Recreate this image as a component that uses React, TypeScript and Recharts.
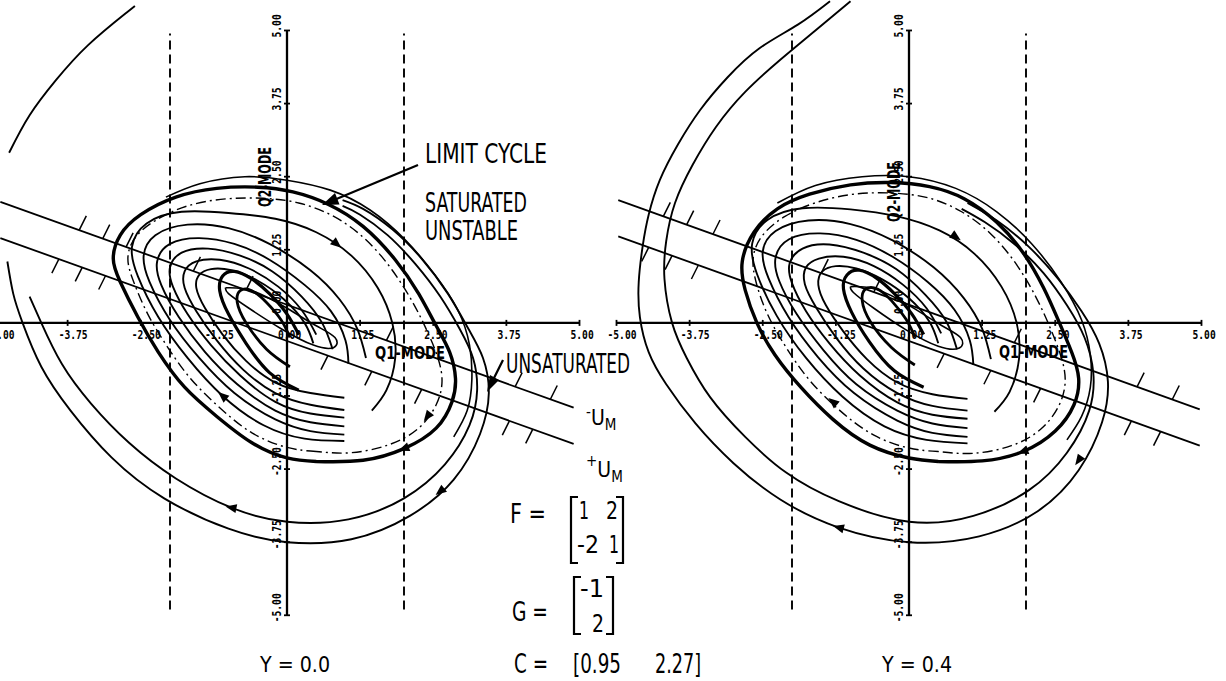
import React from 'react';
import { ComposedChart, XAxis, YAxis, Scatter } from 'recharts';

type Pt = { x: number; y: number; [k: string]: any };
const toPts = (a: number[][]): Pt[] => a.map(([x, y]) => ({ x, y }));

// ---------- axes ----------
const tickValues = [-5, -3.75, -2.5, -1.25, 0, 1.25, 2.5, 3.75, 5];
const tickLabels = ['-5.00', '-3.75', '-2.50', '-1.25', '0.00', '1.25', '2.50', '3.75', '5.00'];
const axisSpan = [-5, 5];
const satBounds = [-2, 2];
const satBoundYRange = [-4.9, 4.95];

// ---------- LEFT PANEL (Y = 0.0) ----------
const L_upperLine = [[-4.9, 2.07], [4.9, -1.45]];
const L_lowerLine = [[-4.9, 1.45], [4.9, -2.07]];
const L_upperHatch = [[-3.55, 1.59], [-3.15, 1.44], [-2.75, 1.3], [-1.6, 0.89], [-0.7, 0.56], [1.7, -0.3], [3.9, -1.09], [4.5, -1.31]];
const L_lowerHatch = [[-3.9, 1.09], [-3.5, 0.95], [-3.1, 0.81], [0.7, -0.56], [1.45, -0.83], [2.3, -1.14], [3.8, -1.68], [4.2, -1.82]];

const L_arc = [[-4.75, 2.91], [-4.4, 3.55], [-3.95, 4.15], [-3.4, 4.75], [-2.75, 5.3], [-2.6, 5.42]];
const L_outer1 = [[-4.78, 1.05], [-4.68, 0.5], [-4.52, 0], [-4.2, -0.75], [-3.7, -1.5], [-3.0, -2.3], [-2.1, -3.0], [-1.0, -3.52], [0, -3.75], [1.1, -3.7], [2.1, -3.3], [2.85, -2.68], [3.3, -1.9], [3.45, -1.2], [3.35, -0.6], [3.1, -0.1], [2.75, 0.5], [2.3, 1.1], [1.8, 1.6], [1.3, 1.95], [0.95, 2.1]];
const L_outer2 = [[-4.4, 0.45], [-4.2, 0], [-3.85, -0.7], [-3.35, -1.38], [-2.7, -2.05], [-1.9, -2.66], [-0.95, -3.16], [0, -3.4], [1.05, -3.36], [2.0, -3.0], [2.7, -2.42], [3.12, -1.75], [3.25, -1.15], [3.18, -0.6], [2.95, -0.1], [2.62, 0.45], [2.2, 1.0], [1.72, 1.5], [1.25, 1.85], [0.95, 2.0]];
const L_outer3 = [[-2.07, 2.15], [-1.49, 2.38], [-0.72, 2.5], [0, 2.44], [0.74, 2.27], [1.42, 1.93], [2.02, 1.42], [2.53, 0.82], [2.92, 0.22], [3.12, -0.38], [3.16, -0.97], [3.08, -1.5], [2.85, -1.95]];
const L_limitCycle = [[0.5, -2.37], [0.0, -2.31], [-0.6, -2.05], [-1.2, -1.6], [-1.75, -1.1], [-2.2, -0.5], [-2.55, 0.1], [-2.85, 0.7], [-2.97, 1.1], [-2.85, 1.5], [-2.5, 1.85], [-1.9, 2.15], [-1.2, 2.3], [-0.5, 2.32], [0.1, 2.24], [0.7, 2.03], [1.3, 1.65], [1.85, 1.08], [2.25, 0.5], [2.55, -0.05], [2.78, -0.5], [2.88, -0.95], [2.82, -1.35], [2.55, -1.8], [2.0, -2.15], [1.3, -2.35], [0.5, -2.37]];
const L_dashDot = [[0.5, -2.2], [0, -2.13], [-0.6, -1.88], [-1.15, -1.45], [-1.65, -0.95], [-2.05, -0.4], [-2.38, 0.15], [-2.62, 0.7], [-2.72, 1.1], [-2.6, 1.45], [-2.25, 1.75], [-1.7, 2.0], [-1.05, 2.12], [-0.4, 2.13], [0.2, 2.05], [0.8, 1.82], [1.35, 1.42], [1.8, 0.9], [2.15, 0.35], [2.4, -0.15], [2.58, -0.6], [2.65, -1.0], [2.55, -1.4], [2.25, -1.8], [1.75, -2.08], [1.1, -2.22], [0.5, -2.2]];
const L_c1 = [[0.98, -1.28], [0.4, -1.2], [-0.2, -1.02], [-0.7, -0.65], [-1.1, -0.2], [-1.4, 0.25], [-1.55, 0.6], [-1.5, 0.82], [-1.3, 0.92], [-0.95, 0.9], [-0.5, 0.72], [-0.05, 0.4], [0.3, 0.0], [0.45, -0.35]];
const L_c2 = [[0.98, -1.49], [0.4, -1.4], [-0.2, -1.2], [-0.75, -0.8], [-1.2, -0.3], [-1.55, 0.2], [-1.75, 0.6], [-1.75, 0.88], [-1.55, 1.05], [-1.15, 1.08], [-0.65, 0.93], [-0.15, 0.62], [0.25, 0.22], [0.5, -0.2]];
const L_c3 = [[0.98, -1.62], [0.4, -1.55], [-0.2, -1.35], [-0.8, -0.9], [-1.3, -0.38], [-1.7, 0.15], [-1.95, 0.62], [-2.0, 0.95], [-1.8, 1.2], [-1.35, 1.27], [-0.8, 1.15], [-0.25, 0.88], [0.25, 0.45], [0.6, 0.0], [0.78, -0.45]];
const L_c4 = [[0.98, -1.77], [0.4, -1.7], [-0.2, -1.5], [-0.85, -1.05], [-1.4, -0.5], [-1.85, 0.1], [-2.15, 0.65], [-2.22, 1.05], [-2.0, 1.35], [-1.5, 1.45], [-0.9, 1.35], [-0.3, 1.08], [0.3, 0.65], [0.75, 0.2], [1.0, -0.3], [1.05, -0.7]];
const L_c5 = [[0.98, -1.91], [0.4, -1.85], [-0.2, -1.65], [-0.9, -1.2], [-1.5, -0.6], [-2.0, 0.05], [-2.35, 0.7], [-2.45, 1.15], [-2.25, 1.5], [-1.7, 1.68], [-1.0, 1.62], [-0.3, 1.35], [0.4, 0.9], [0.9, 0.4], [1.2, -0.1], [1.35, -0.6]];
const L_c6 = [[0.98, -2.02], [0.3, -1.98], [-0.4, -1.75], [-1.1, -1.25], [-1.7, -0.6], [-2.2, 0.1], [-2.55, 0.8], [-2.65, 1.3], [-2.4, 1.7], [-1.8, 1.9], [-1.0, 1.88], [-0.2, 1.78], [0.5, 1.55], [1.1, 1.15], [1.55, 0.6], [1.8, 0.0], [1.85, -0.6], [1.7, -1.15], [1.45, -1.5]];
const L_t1 = [[0.2, -1.15], [-0.3, -0.85], [-0.7, -0.35], [-1.0, 0.15], [-1.15, 0.55], [-1.1, 0.8], [-0.9, 0.88], [-0.6, 0.75], [-0.3, 0.5], [0.0, 0.15], [0.2, -0.2]];
const L_t2 = [[0.05, -0.75], [-0.35, -0.45], [-0.7, 0.0], [-0.85, 0.35], [-0.8, 0.55], [-0.6, 0.55], [-0.35, 0.35], [-0.1, 0.05], [0.05, -0.25]];
const L_e1 = [[-1.05, 0.6], [-0.6, 0.55], [0.0, 0.25], [0.5, -0.05], [0.82, -0.25], [0.8, -0.42], [0.45, -0.38], [-0.1, -0.1], [-0.65, 0.25], [-1.0, 0.5], [-1.05, 0.6]];
const L_arrows = [[0.85, 1.35, 40], [-1.1, -1.25, 220], [2.62, -2.88, 141], [-0.95, -3.16, 191], [2.0, -2.15, 159], [2.4, -1.6, 127]];

// ---------- RIGHT PANEL (Y = 0.4) ----------
const R_upperLine = [[-4.97, 2.1], [4.97, -1.48]];
const R_lowerLine = [[-4.97, 1.48], [4.97, -2.1]];
const R_upperHatch = [[-4.2, 1.82], [-3.8, 1.68], [-3.35, 1.52], [-1.5, 0.85], [-0.6, 0.53], [1.8, -0.34], [3.9, -1.09], [4.5, -1.31]];
const R_lowerHatch = [[-4.45, 1.29], [-4.05, 1.15], [-3.6, 0.99], [0.6, -0.53], [1.4, -0.81], [2.25, -1.12], [3.8, -1.68], [4.3, -1.86]];
const R_outer1 = [[-1.35, 5.5], [-1.9, 5.1], [-2.55, 4.7], [-3.1, 4.2], [-3.57, 3.64], [-3.95, 3.05], [-4.26, 2.44], [-4.45, 1.85], [-4.55, 1.33], [-4.62, 0.7], [-4.6, 0.1], [-4.45, -0.5], [-4.15, -1.05], [-3.65, -1.72], [-3.0, -2.4], [-2.2, -3.02], [-1.2, -3.5], [0, -3.75], [1.2, -3.65], [2.2, -3.22], [2.9, -2.52], [3.3, -1.7], [3.4, -1.0], [3.25, -0.35], [2.95, 0.2], [2.55, 0.75], [2.05, 1.3], [1.5, 1.75], [1.0, 2.05]];
const R_outer2 = [[-1.0, 5.5], [-1.6, 5.0], [-2.2, 4.5], [-2.8, 3.95], [-3.3, 3.35], [-3.7, 2.7], [-4.0, 2.05], [-4.15, 1.4], [-4.18, 0.75], [-4.05, 0.0], [-3.8, -0.6], [-3.4, -1.27], [-2.8, -1.95], [-2.1, -2.56], [-1.2, -3.05], [0, -3.4], [1.1, -3.3], [2.05, -2.86], [2.7, -2.22], [3.08, -1.5], [3.15, -0.85], [3.0, -0.25], [2.7, 0.3], [2.3, 0.85], [1.8, 1.35], [1.3, 1.72], [0.9, 1.95]];
const R_outer3 = [[-2.25, 2.05], [-1.6, 2.35], [-0.8, 2.5], [0, 2.5], [0.8, 2.3], [1.5, 1.9], [2.1, 1.35], [2.6, 0.7], [2.95, 0.05], [3.1, -0.55], [3.1, -1.1], [2.95, -1.6], [2.7, -2.0]];
const R_limitCycle = [[0.5, -2.37], [0, -2.31], [-0.67, -2.09], [-1.3, -1.65], [-1.85, -1.1], [-2.29, -0.55], [-2.6, 0.0], [-2.8, 0.56], [-2.85, 1.05], [-2.65, 1.55], [-2.25, 1.95], [-1.7, 2.2], [-1.0, 2.36], [-0.3, 2.4], [0.35, 2.33], [0.95, 2.12], [1.5, 1.72], [1.95, 1.2], [2.3, 0.6], [2.55, 0.05], [2.78, -0.5], [2.9, -0.95], [2.82, -1.4], [2.5, -1.85], [1.95, -2.2], [1.25, -2.36], [0.5, -2.37]];
const R_dashDot = [[0.5, -2.2], [0, -2.14], [-0.6, -1.92], [-1.18, -1.5], [-1.7, -0.98], [-2.1, -0.42], [-2.42, 0.15], [-2.62, 0.72], [-2.66, 1.14], [-2.5, 1.5], [-2.12, 1.82], [-1.58, 2.06], [-0.95, 2.2], [-0.3, 2.22], [0.32, 2.14], [0.9, 1.9], [1.42, 1.5], [1.85, 0.98], [2.18, 0.42], [2.42, -0.1], [2.6, -0.58], [2.67, -1.0], [2.56, -1.42], [2.25, -1.82], [1.75, -2.1], [1.1, -2.23], [0.5, -2.2]];
const R_c1 = [[1.0, -1.3], [0.4, -1.22], [-0.2, -1.02], [-0.72, -0.62], [-1.12, -0.15], [-1.42, 0.3], [-1.55, 0.65], [-1.48, 0.88], [-1.25, 0.97], [-0.9, 0.93], [-0.45, 0.74], [0.0, 0.42], [0.35, 0.02], [0.5, -0.35]];
const R_c2 = [[1.0, -1.5], [0.4, -1.42], [-0.2, -1.2], [-0.78, -0.78], [-1.24, -0.26], [-1.58, 0.25], [-1.78, 0.66], [-1.76, 0.95], [-1.54, 1.1], [-1.12, 1.13], [-0.6, 0.97], [-0.1, 0.65], [0.3, 0.25], [0.55, -0.18]];
const R_c3 = [[1.0, -1.64], [0.4, -1.57], [-0.2, -1.36], [-0.84, -0.9], [-1.36, -0.35], [-1.76, 0.2], [-2.0, 0.68], [-2.04, 1.02], [-1.82, 1.27], [-1.36, 1.34], [-0.78, 1.2], [-0.22, 0.92], [0.28, 0.48], [0.64, 0.02], [0.82, -0.45]];
const R_c4 = [[1.0, -1.8], [0.4, -1.72], [-0.2, -1.5], [-0.9, -1.05], [-1.46, -0.47], [-1.92, 0.15], [-2.22, 0.72], [-2.28, 1.12], [-2.05, 1.43], [-1.52, 1.53], [-0.9, 1.42], [-0.28, 1.13], [0.32, 0.7], [0.78, 0.22], [1.04, -0.3], [1.1, -0.72]];
const R_c5 = [[1.0, -1.95], [0.4, -1.88], [-0.2, -1.67], [-0.94, -1.2], [-1.56, -0.58], [-2.06, 0.1], [-2.4, 0.76], [-2.5, 1.22], [-2.28, 1.57], [-1.72, 1.75], [-1.0, 1.69], [-0.28, 1.41], [0.42, 0.95], [0.94, 0.42], [1.25, -0.1], [1.4, -0.62]];
const R_c6 = [[1.0, -2.06], [0.3, -2.0], [-0.42, -1.77], [-1.14, -1.26], [-1.76, -0.6], [-2.26, 0.12], [-2.6, 0.84], [-2.68, 1.36], [-2.42, 1.76], [-1.82, 1.96], [-1.0, 1.94], [-0.2, 1.82], [0.52, 1.58], [1.12, 1.18], [1.58, 0.62], [1.84, 0.0], [1.88, -0.62], [1.72, -1.18], [1.46, -1.52]];
const R_t1 = [[0.25, -1.1], [-0.25, -0.82], [-0.68, -0.32], [-0.98, 0.18], [-1.12, 0.58], [-1.06, 0.82], [-0.85, 0.9], [-0.55, 0.76], [-0.25, 0.5], [0.05, 0.15], [0.25, -0.2]];
const R_t2 = [[0.1, -0.72], [-0.3, -0.42], [-0.66, 0.02], [-0.8, 0.38], [-0.74, 0.58], [-0.54, 0.58], [-0.3, 0.38], [-0.05, 0.06], [0.1, -0.24]];
const R_e1 = [[-1.0, 0.62], [-0.55, 0.57], [0.05, 0.27], [0.55, -0.04], [0.88, -0.25], [0.86, -0.43], [0.5, -0.4], [-0.05, -0.12], [-0.6, 0.25], [-0.95, 0.52], [-1.0, 0.62]];
const R_arrows = [[0.8, 1.47, 35], [-1.3, -1.35, 220], [-1.2, -3.5, 195], [2.9, -2.35, 125], [1.95, -2.2, 160]];

// ---------- text ----------
const NARROW = "'Liberation Sans Narrow', 'DejaVu Sans Condensed', 'Liberation Sans', 'DejaVu Sans', sans-serif";
const MONO = "'DejaVu Sans Mono', 'Liberation Mono', monospace";

const Empty = () => <g />;

const XTick = (p: any) => {
  const { cx, cy, payload } = p;
  return (
    <g>
      <line x1={cx} y1={cy - 3} x2={cx} y2={cy + 3} stroke="#000" strokeWidth={1.8} />
      <text x={cx - 9} y={cy + 16} fontFamily={MONO} fontWeight="bold" fontSize={12}
        textLength={payload.label.length * 5.8} lengthAdjust="spacingAndGlyphs" fill="#000">{payload.label}</text>
    </g>
  );
};
const YTick = (p: any) => {
  const { cx, cy, payload } = p;
  const sy = payload.y === 0 ? cy - 9 : cy + 7;
  const bx = cx - 6;
  return (
    <g>
      <line x1={cx - 3} y1={cy} x2={cx + 3} y2={cy} stroke="#000" strokeWidth={1.8} />
      <text x={bx} y={sy} transform={`rotate(-90 ${bx} ${sy})`} fontFamily={MONO} fontWeight="bold" fontSize={12}
        textLength={payload.label.length * 5.8} lengthAdjust="spacingAndGlyphs" fill="#000">{payload.label}</text>
    </g>
  );
};
const HatchUp = (p: any) => <line x1={p.cx} y1={p.cy} x2={p.cx + 7} y2={p.cy - 14} stroke="#000" strokeWidth={1.5} />;
const HatchDown = (p: any) => <line x1={p.cx} y1={p.cy} x2={p.cx - 7} y2={p.cy + 14} stroke="#000" strokeWidth={1.5} />;
const ArrowHead = (p: any) => (
  <polygon points="6,0 -5,-4.5 -5,4.5" fill="#000" transform={`translate(${p.cx} ${p.cy}) rotate(${p.payload.a})`} />
);

const curve = (key: string, d: number[][], w = 1.9, dash?: string, type = 'natural') => (
  <Scatter key={key} data={toPts(d)} fill="none" shape={Empty} isAnimationActive={false}
    lineJointType={type as any}
    line={{ stroke: '#000', strokeWidth: w, strokeDasharray: dash, fill: 'none' } as any} />
);

type PanelProps = {
  upper: number[][]; lower: number[][]; upperHatch: number[][]; lowerHatch: number[][];
  curves: { k: string; d: number[][]; w?: number; dash?: string }[];
  arrows: number[][];
};

const W = 702;
const H = 731;

function Panel(props: PanelProps) {
  const xTicks = tickValues.map((v, i) => ({ x: v, y: 0, label: tickLabels[i] }));
  const yTicks = tickValues.map((v, i) => ({ x: 0, y: v, label: tickLabels[i] }));
  const arrows = props.arrows.map(([x, y, a]) => ({ x, y, a }));
  return (
    <ComposedChart width={W} height={H} margin={{ top: 0, right: 0, bottom: 0, left: 0 }}>
      <XAxis type="number" dataKey="x" domain={[-6, 6]} hide allowDataOverflow />
      <YAxis type="number" dataKey="y" domain={[-6.5, 6]} hide allowDataOverflow />
      {curve('dl', [[satBounds[0], satBoundYRange[0]], [satBounds[0], satBoundYRange[1]]], 1.9, '9 5', 'linear')}
      {curve('dr', [[satBounds[1], satBoundYRange[0]], [satBounds[1], satBoundYRange[1]]], 1.9, '9 5', 'linear')}
      {curve('xa', [[axisSpan[0], 0], [axisSpan[1], 0]], 2.3, undefined, 'linear')}
      {curve('ya', [[0, axisSpan[0]], [0, axisSpan[1]]], 2.3, undefined, 'linear')}
      {curve('su', props.upper, 1.8, undefined, 'linear')}
      {curve('sl', props.lower, 1.8, undefined, 'linear')}
      {props.curves.map((c) => curve(c.k, c.d, c.w ?? 1.9, c.dash))}
      <Scatter key="hu" data={toPts(props.upperHatch)} shape={HatchUp} isAnimationActive={false} />
      <Scatter key="hd" data={toPts(props.lowerHatch)} shape={HatchDown} isAnimationActive={false} />
      <Scatter key="ar" data={arrows} shape={ArrowHead} isAnimationActive={false} />
      <Scatter key="xt" data={xTicks} shape={XTick} isAnimationActive={false} />
      <Scatter key="yt" data={yTicks} shape={YTick} isAnimationActive={false} />
    </ComposedChart>
  );
}

const leftCurves = [
  { k: 'arc', d: L_arc }, { k: 'o1', d: L_outer1 }, { k: 'o2', d: L_outer2 }, { k: 'o3', d: L_outer3, w: 1.6 },
  { k: 'lc', d: L_limitCycle, w: 3.4 }, { k: 'dd', d: L_dashDot, w: 1.4, dash: '10 4 2 4' },
  { k: 'c1', d: L_c1 }, { k: 'c2', d: L_c2 }, { k: 'c3', d: L_c3 }, { k: 'c4', d: L_c4 }, { k: 'c5', d: L_c5 }, { k: 'c6', d: L_c6 },
  { k: 't1', d: L_t1, w: 3.2 }, { k: 't2', d: L_t2, w: 2.8 }, { k: 'e1', d: L_e1, w: 1.6 },
];
const rightCurves = [
  { k: 'o1', d: R_outer1 }, { k: 'o2', d: R_outer2 }, { k: 'o3', d: R_outer3, w: 1.6 },
  { k: 'lc', d: R_limitCycle, w: 3.4 }, { k: 'dd', d: R_dashDot, w: 1.4, dash: '10 4 2 4' },
  { k: 'c1', d: R_c1 }, { k: 'c2', d: R_c2 }, { k: 'c3', d: R_c3 }, { k: 'c4', d: R_c4 }, { k: 'c5', d: R_c5 }, { k: 'c6', d: R_c6 },
  { k: 't1', d: R_t1, w: 3.2 }, { k: 't2', d: R_t2, w: 2.8 }, { k: 'e1', d: R_e1, w: 1.6 },
];

const T = (x: number, y: number, s: string, size: number, len: number, extra: any = {}) => (
  <text x={x} y={y} fontFamily={NARROW} fontSize={size} textLength={len} lengthAdjust="spacingAndGlyphs" fill="#000" {...extra}>{s}</text>
);

export default function App() {
  return (
    <div style={{ position: 'absolute', left: 0, top: 0, width: 1226, height: 681, overflow: 'hidden', background: '#fff' }}>
      <div style={{ position: 'absolute', left: -64, top: -28 }}>
        <Panel upper={L_upperLine} lower={L_lowerLine} upperHatch={L_upperHatch} lowerHatch={L_lowerHatch} curves={leftCurves} arrows={L_arrows} />
      </div>
      <div style={{ position: 'absolute', left: 558, top: -28 }}>
        <Panel upper={R_upperLine} lower={R_lowerLine} upperHatch={R_upperHatch} lowerHatch={R_lowerHatch} curves={rightCurves} arrows={R_arrows} />
      </div>
      <svg style={{ position: 'absolute', left: 0, top: 0 }} width={1226} height={681}>
        {/* axis titles */}
        <text x={375} y={359} fontFamily={NARROW} fontWeight="bold" fontSize={18} textLength={70} lengthAdjust="spacingAndGlyphs">Q1-MODE</text>
        <text x={999} y={358} fontFamily={NARROW} fontWeight="bold" fontSize={18} textLength={69} lengthAdjust="spacingAndGlyphs">Q1-MODE</text>
        <text x={271} y={207} transform="rotate(-90 271 207)" fontFamily={NARROW} fontWeight="bold" fontSize={18} textLength={60} lengthAdjust="spacingAndGlyphs">Q2-MODE</text>
        <text x={900} y={222} transform="rotate(-90 900 222)" fontFamily={NARROW} fontWeight="bold" fontSize={18} textLength={60} lengthAdjust="spacingAndGlyphs">Q2-MODE</text>

        {/* annotations */}
        {T(425, 163, 'LIMIT CYCLE', 27, 122)}
        {T(425, 212, 'SATURATED', 27, 102)}
        {T(425, 240, 'UNSTABLE', 27, 93)}
        <line x1={418} y1={165} x2={334} y2={200} stroke="#000" strokeWidth={2.2} />
        <polygon points="322,205 339.5,204.5 335,193" fill="#000" />
        {T(506, 373, 'UNSATURATED', 26, 124)}
        <line x1={503} y1={360} x2={492} y2={382} stroke="#000" strokeWidth={2.2} />
        <polygon points="487,392 499,380 490,375" fill="#000" />

        <text x={586} y={425} fontFamily={NARROW} fill="#000">
          <tspan fontSize={15} dy={-8}>-</tspan><tspan fontSize={21} dy={8}>U</tspan><tspan fontSize={15} dy={5}>M</tspan>
        </text>
        <text x={586} y={477} fontFamily={NARROW} fill="#000">
          <tspan fontSize={15} dy={-11}>+</tspan><tspan fontSize={21} dy={11}>U</tspan><tspan fontSize={15} dy={5}>M</tspan>
        </text>

        {/* F matrix */}
        {T(510, 523, 'F  =', 27, 36)}
        <path d="M 578 497 L 571 497 L 571 563 L 578 563" fill="none" stroke="#000" strokeWidth={2.2} />
        <path d="M 616 497 L 623 497 L 623 563 L 616 563" fill="none" stroke="#000" strokeWidth={2.2} />
        {T(579, 519, '1', 25, 10)}
        {T(606, 519, '2', 25, 12)}
        {T(577, 553, '-2', 25, 22)}
        {T(609, 553, '1', 25, 10)}

        {/* G matrix */}
        {T(512, 621, 'G  =', 27, 36)}
        <path d="M 581 577 L 574 577 L 574 634 L 581 634" fill="none" stroke="#000" strokeWidth={2.2} />
        <path d="M 606 577 L 613 577 L 613 634 L 606 634" fill="none" stroke="#000" strokeWidth={2.2} />
        {T(580, 597, '-1', 25, 24)}
        {T(592, 632, '2', 25, 12)}

        {/* C row */}
        {T(514, 673, 'C  =', 27, 34)}
        {T(573, 673, '[0.95', 26, 48)}
        {T(655, 673, '2.27]', 26, 46)}

        {/* panel titles */}
        {T(260, 672, 'Y  =  0.0', 22, 70)}
        {T(882, 672, 'Y  =  0.4', 22, 70)}
      </svg>
    </div>
  );
}
